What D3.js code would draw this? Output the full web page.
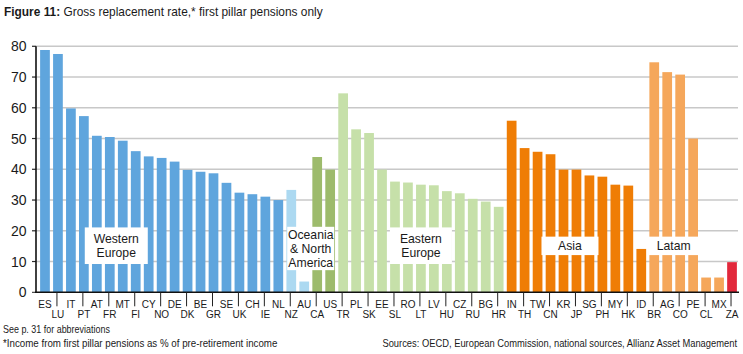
<!DOCTYPE html>
<html>
<head>
<meta charset="utf-8">
<script src="https://cdn.jsdelivr.net/npm/d3@7"></script>
<style>
  html, body { margin:0; padding:0; background:#fff; }
  svg text { font-family: "Liberation Sans", Arial, sans-serif; fill:#1a1a1a; }
</style>
</head>
<body>
<div id="chart"></div>
<script>
/* ── data ─────────────────────────────────────────── */
const codes = ['ES','LU','IT','PT','AT','FR','MT','FI','CY','NO','DE','DK','BE','GR','SE','UK','CH','IE','NL',
               'NZ','AU','CA','US',
               'TR','PL','SK','EE','SL','RO','LT','LV','HU','CZ','RU','BG','HR',
               'IN','TH','TW','CN','KR','JP','SG','PH','MY','HK','ID',
               'BR','AG','CO','PE','CL','MX',
               'ZA'];
const values = [78.8,77.5,59.8,57.3,50.9,50.5,49.3,45.9,44.2,43.7,42.5,39.8,39.2,38.7,35.6,32.4,31.9,31.1,30.0,
                33.3,3.5,44.0,39.9,
                64.7,53.0,51.8,39.9,36.0,35.7,35.0,34.8,32.9,32.2,30.4,29.5,27.8,
                55.8,46.9,45.7,44.9,39.9,39.9,38.0,37.6,35.0,34.7,14.1,
                74.8,71.6,70.8,50.0,4.8,4.8,
                9.8];
// group of each bar
const groups = ['we','we','we','we','we','we','we','we','we','we','we','we','we','we','we','we','we','we','we',
                'oc','oc','na','na',
                'ee','ee','ee','ee','ee','ee','ee','ee','ee','ee','ee','ee','ee',
                'as','as','as','as','as','as','as','as','as','as','as',
                'la','la','la','la','la','la',
                'za'];
const groupColors = {we:'#5fa5dd', oc:'#acd9f1', na:'#9dbb6c', ee:'#c6e0a9', as:'#ef7d05', la:'#f5a75b', za:'#e2283b'};
const yTicks = [0,10,20,30,40,50,60,70,80];

// labels sitting in white boxes over the bars
const groupLabels = [
  {lines:['Western','Europe'],            left:'FR', right:'MT', w:63, top:21.1, bottom:9.2},
  {lines:['Oceania','& North','America'], left:'AU', right:'CA', w:47, top:21.3, bottom:7.2},
  {lines:['Eastern','Europe'],            left:'LT', right:'LT', w:62, top:21.1, bottom:9.2},
  {lines:['Asia'],                        left:'KR', right:'JP', w:57, top:18.1, bottom:12.1},
  {lines:['Latam'],                       left:'AG', right:'CO', w:53, top:18.1, bottom:12.1}
];

/* ── layout ───────────────────────────────────────── */
const WIDTH = 743, HEIGHT = 354;
const MARGIN = {top:46.3, left:36, right:5, bottom:61.7};

const svg = d3.select('#chart').append('svg')
  .attr('width', WIDTH).attr('height', HEIGHT);

const x = d3.scaleBand().domain(codes).range([38.5, 738.5])
  .paddingInner(0.25).paddingOuter(0.125);
const y = d3.scaleLinear().domain([0,80]).range([HEIGHT-MARGIN.bottom, MARGIN.top]);

// narrow text: the original uses a condensed face, so squeeze horizontally
function narrowText(px, py, size, width, anchor){
  const t = svg.append('text').attr('text-anchor', anchor || 'start').style('font-size', size+'px');
  return {t, fit(){
    const w = t.node().getComputedTextLength();
    t.attr('transform', `translate(${px},${py}) scale(${width/w},1)`);
    return t;
  }};
}

// title
const tt = narrowText(4, 16, 13, 319);
tt.t.append('tspan').attr('font-weight','bold').text('Figure 11:');
tt.t.append('tspan').text(' Gross replacement rate,* first pillar pensions only');
tt.fit();

// gridlines
svg.append('g').selectAll('line').data(yTicks.filter(d=>d>0)).enter().append('line')
  .attr('x1', 32).attr('x2', 738)
  .attr('y1', d=>y(d)).attr('y2', d=>y(d))
  .attr('stroke','#c8c8c8').attr('stroke-width',1.6);

// bars
svg.append('g').selectAll('rect').data(codes).enter().append('rect')
  .attr('x', d=>x(d))
  .attr('width', x.bandwidth())
  .attr('y', (d,i)=>y(values[i]))
  .attr('height', (d,i)=>y(0)-y(values[i]))
  .attr('fill', (d,i)=>groupColors[groups[i]]);

// group label boxes
groupLabels.forEach(g=>{
  const cx = (x(g.left) + x(g.right) + x.bandwidth())/2;
  svg.append('rect')
    .attr('x', cx - g.w/2).attr('width', g.w)
    .attr('y', y(g.top)).attr('height', y(g.bottom)-y(g.top))
    .attr('fill','#fff');
  const mid = (y(g.top)+y(g.bottom))/2;
  const lh = 14.3;
  g.lines.forEach((ln,i)=>{
    svg.append('text')
      .attr('x', cx)
      .attr('y', mid + (i-(g.lines.length-1)/2)*lh + 4.5)
      .attr('text-anchor','middle')
      .style('font-size','12.2px')
      .text(ln);
  });
});

// y axis labels + small ticks
svg.append('g').selectAll('text').data(yTicks).enter().append('text')
  .attr('x', 26.5).attr('y', d=>y(d)+5)
  .attr('text-anchor','end')
  .style('font-size','14px')
  .text(d=>d);
svg.append('g').selectAll('line').data(yTicks).enter().append('line')
  .attr('x1',32).attr('x2',36).attr('y1',d=>y(d)).attr('y2',d=>y(d))
  .attr('stroke','#222').attr('stroke-width',1);

// axis lines
svg.append('line').attr('x1',36).attr('x2',36).attr('y1',y(80)).attr('y2',y(0))
  .attr('stroke','#111').attr('stroke-width',1.6);
svg.append('line').attr('x1',35).attr('x2',739).attr('y1',y(0)).attr('y2',y(0))
  .attr('stroke','#111').attr('stroke-width',1.6);

// x ticks at lower-row labels
svg.append('g').selectAll('line').data(codes.filter((d,i)=>i%2===1)).enter().append('line')
  .attr('x1', d=>x(d)+x.bandwidth()/2 - 1).attr('x2', d=>x(d)+x.bandwidth()/2 - 1)
  .attr('y1', y(0)).attr('y2', y(0)+14)
  .attr('stroke','#222').attr('stroke-width',1);

// x labels, staggered
svg.append('g').selectAll('text').data(codes).enter().append('text')
  .attr('x', d=>x(d)+x.bandwidth()/2)
  .attr('y', (d,i)=> i%2===0 ? 308 : 317.5)
  .attr('text-anchor','middle')
  .style('font-size','10px')
  .text(d=>d);

// notes
let n = narrowText(3, 333, 11, 107); n.t.text('See p. 31 for abbreviations'); n.fit();
n = narrowText(3, 347, 11, 275); n.t.text('*Income from first pillar pensions as % of pre-retirement income'); n.fit();
n = narrowText(737, 347, 11, 355, 'end'); n.t.text('Sources: OECD, European Commission, national sources, Allianz Asset Management'); n.fit();
</script>
</body>
</html>
